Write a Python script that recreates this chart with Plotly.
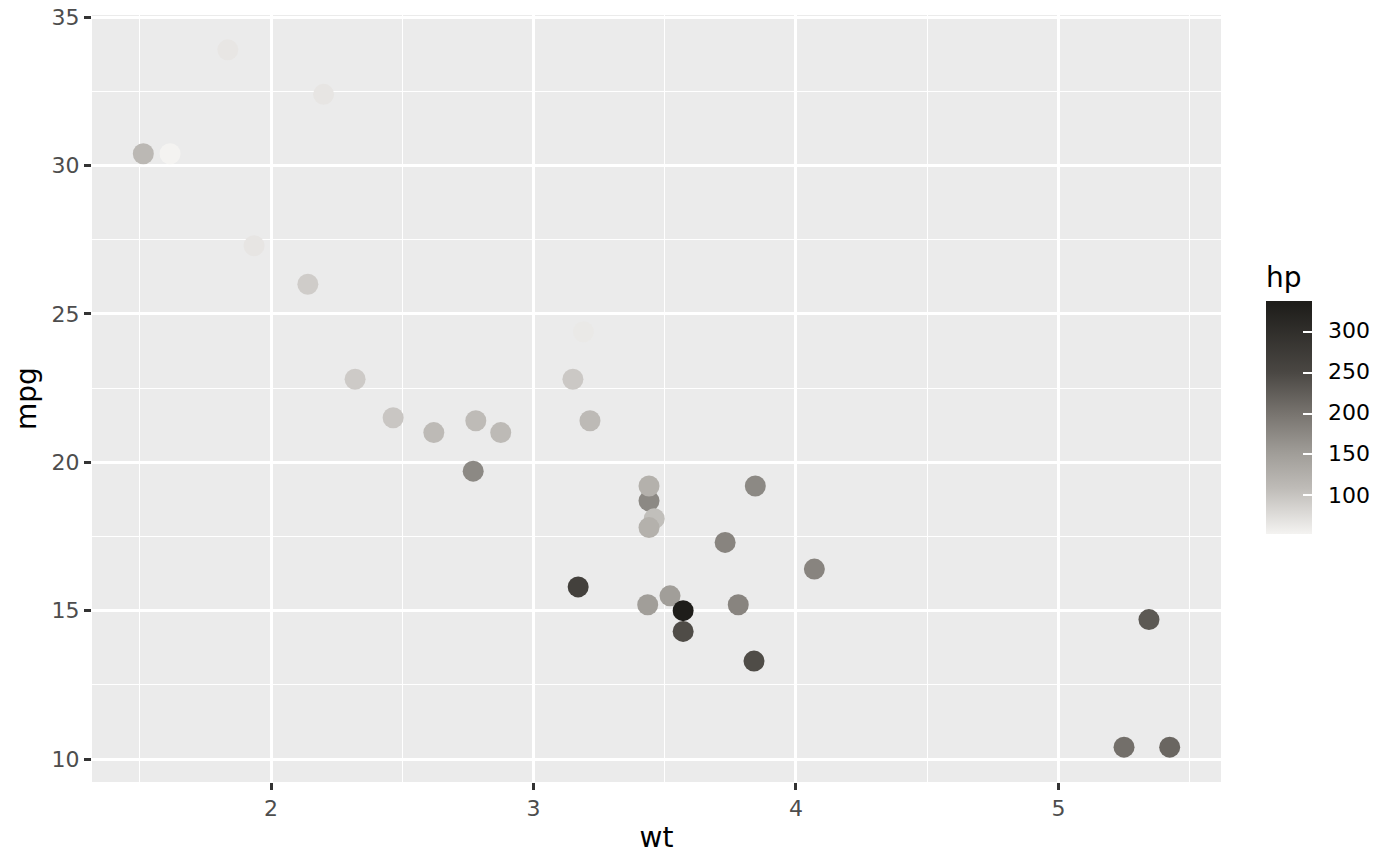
import plotly.graph_objects as go

wt = [2.620, 2.875, 2.320, 3.215, 3.440, 3.460, 3.570, 3.190, 3.150, 3.440, 3.440,
      4.070, 3.730, 3.780, 5.250, 5.424, 5.345, 2.200, 1.615, 1.835, 2.465, 3.520,
      3.435, 3.840, 3.845, 1.935, 2.140, 1.513, 3.170, 2.770, 3.570, 2.780]
mpg = [21.0, 21.0, 22.8, 21.4, 18.7, 18.1, 14.3, 24.4, 22.8, 19.2, 17.8,
       16.4, 17.3, 15.2, 10.4, 10.4, 14.7, 32.4, 30.4, 33.9, 21.5, 15.5,
       15.2, 13.3, 19.2, 27.3, 26.0, 30.4, 15.8, 19.7, 15.0, 21.4]
hp = [110, 110, 93, 110, 175, 105, 245, 62, 95, 123, 123,
      180, 180, 180, 205, 215, 230, 66, 52, 65, 97, 150,
      150, 245, 175, 66, 91, 113, 264, 175, 335, 109]

cbar_ticks = [100, 150, 200, 250, 300]
x_ticks = [2, 3, 4, 5]
y_ticks = [10, 15, 20, 25, 30, 35]

colorscale = [
    [0.0, "#F4F3F1"],
    [0.2, "#BEBBB7"],
    [0.35, "#A09D98"],
    [0.52, "#78746F"],
    [0.7, "#4A4743"],
    [1.0, "#1E1D1A"],
]

FONT = "DejaVu Sans"
CB_X = 1.0399
CB_Y = 0.3229

fig = go.Figure()
# main points + colorbar with title and labels
fig.add_trace(go.Scatter(
    x=wt, y=mpg, mode="markers",
    marker=dict(
        size=21, color=hp, colorscale=colorscale, cmin=min(hp), cmax=max(hp),
        line=dict(width=0), opacity=1,
        colorbar=dict(
            title=dict(text="hp", side="top", font=dict(size=28, color="black", family=FONT)),
            tickvals=cbar_ticks, ticks="outside", ticklen=12, tickcolor="white", tickwidth=1,
            tickfont=dict(size=22, color="black", family=FONT),
            thickness=46, thicknessmode="pixels",
            len=0.353, lenmode="fraction",
            x=CB_X, xanchor="left", y=CB_Y, yanchor="bottom",
            outlinewidth=0, xpad=0, ypad=0,
        ),
    ),
    showlegend=False, hoverinfo="skip",
))
# overlay colorbar: white inner tick marks, no labels
fig.add_trace(go.Scatter(
    x=[None], y=[None], mode="markers",
    marker=dict(
        size=0, color=[min(hp), max(hp)], colorscale=colorscale, cmin=min(hp), cmax=max(hp),
        colorbar=dict(
            tickvals=cbar_ticks, ticks="inside", ticklen=9, tickcolor="white", tickwidth=1.5,
            showticklabels=False,
            thickness=46, thicknessmode="pixels",
            len=231, lenmode="pixels",
            x=CB_X, xanchor="left", y=CB_Y, yanchor="bottom",
            outlinewidth=0, xpad=0, ypad=0,
        ),
    ),
    showlegend=False, hoverinfo="skip",
))

axis_common = dict(
    showgrid=True, gridcolor="white", gridwidth=2.6,
    ticks="outside", ticklen=7, tickcolor="#333333", tickwidth=2.5,
    tickfont=dict(size=22, color="#4D4D4D", family=FONT),
    zeroline=False, showline=False, automargin=False,
)

fig.update_layout(
    width=1400, height=866,
    margin=dict(l=92, r=179, t=15, b=84),
    paper_bgcolor="white", plot_bgcolor="#EBEBEB",
    font=dict(family=FONT),
    xaxis=dict(range=[1.3175, 5.6195], tickvals=x_ticks,
               title=dict(text="wt", font=dict(size=28, color="black"), standoff=6),
               minor=dict(showgrid=True, gridcolor="white", gridwidth=1.3, tick0=1.5, dtick=1),
               **axis_common),
    yaxis=dict(range=[9.225, 35.075], tickvals=y_ticks,
               title=dict(text="mpg", font=dict(size=28, color="black"), standoff=6),
               minor=dict(showgrid=True, gridcolor="white", gridwidth=1.3, tick0=12.5, dtick=5),
               **axis_common),
)

fig.write_html("out.html", config={"displayModeBar": False},
               post_script="document.body.style.margin='0';")
